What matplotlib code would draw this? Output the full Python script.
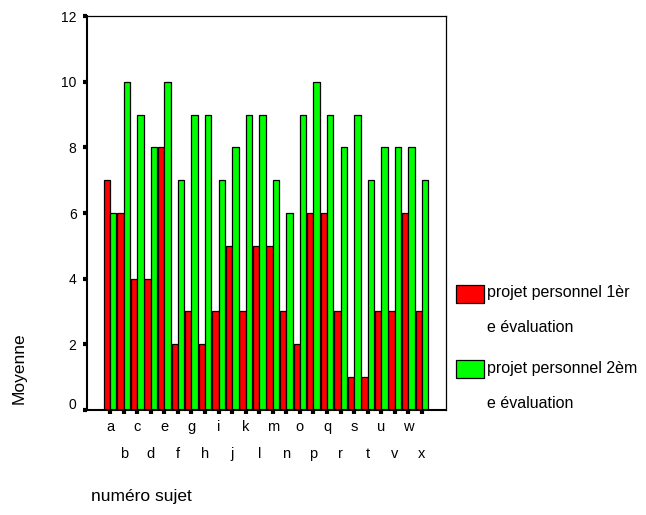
import numpy as np
import matplotlib
matplotlib.use("Agg")
import matplotlib.pyplot as plt
import matplotlib.transforms as mtransforms
from matplotlib.patches import Rectangle

plt.rcParams["font.family"] = ["Liberation Sans", "DejaVu Sans"]

subjects = list("abcdefghijklmnopqrstuvwx")
eval1 = [7, 6, 4, 4, 8, 2, 3, 2, 3, 5, 3, 5, 5, 3, 2, 6, 6, 3, 1, 1, 3, 3, 6, 3]
eval2 = [6, 10, 9, 8, 10, 7, 9, 9, 7, 8, 9, 9, 7, 6, 9, 10, 9, 8, 9, 7, 8, 8, 8, 7]
series_labels = ["projet personnel 1èr\ne évaluation",
                 "projet personnel 2èm\ne évaluation"]
colors = ["#ff0000", "#00ff00"]

fig = plt.figure(figsize=(6.46, 5.15), dpi=100)
ax = fig.add_axes([0.1347, 0.2039, 0.5557, 0.765])

x = np.arange(len(subjects))
w = 0.47
ax.bar(x - w / 2, eval1, width=w, color=colors[0], edgecolor="black", lw=0.9)
ax.bar(x + w / 2, eval2, width=w, color=colors[1], edgecolor="black", lw=0.9)

ax.set_xlim(-1.7, len(subjects) - 1 + 1.77)
ax.set_ylim(0, 12)
ax.set_yticks(range(0, 13, 2))
ax.set_xticks(x)
ax.set_xticklabels([s if i % 2 == 0 else "\n\n" + s for i, s in enumerate(subjects)],
                   fontsize=10.5, linespacing=0.95)
ax.tick_params(axis="x", length=3, width=3, pad=4)
ax.tick_params(axis="y", length=3, width=3, pad=4.5, labelsize=10)
for sp in ax.spines.values():
    sp.set_linewidth(0.9)
ax.spines["left"].set_linewidth(1.5)
ax.spines["bottom"].set_linewidth(1.5)

# the "0" label sits a little above the baseline
fig.canvas.draw()
ylabs = ax.get_yticklabels()
ylabs[0].set_transform(ylabs[0].get_transform() +
                       mtransforms.ScaledTranslation(0, 6 / 100, fig.dpi_scale_trans))

fig.text(19 / 646, 1 - 368 / 515, "Moyenne", rotation=90, fontsize=12.5,
         ha="center", va="center")
fig.text(91 / 646, 1 - 496 / 515, "numéro sujet", fontsize=12.5, ha="left", va="center")

# legend drawn outside the plot to the right
for i, (lab, col) in enumerate(zip(series_labels, colors)):
    y0 = 1 - (285 + i * 75) / 515
    fig.patches.append(Rectangle((456 / 646, y0 - 18 / 515), 28 / 646, 18 / 515,
                                 transform=fig.transFigure, facecolor=col,
                                 edgecolor="black", lw=0.9))
    line1, line2 = lab.split("\n")
    fig.text(487 / 646, 1 - (293 + i * 76) / 515, line1, fontsize=11.5, va="center")
    fig.text(487 / 646, 1 - (327 + i * 76) / 515, line2, fontsize=11.5, va="center")

fig.savefig("out.png", dpi=100)
